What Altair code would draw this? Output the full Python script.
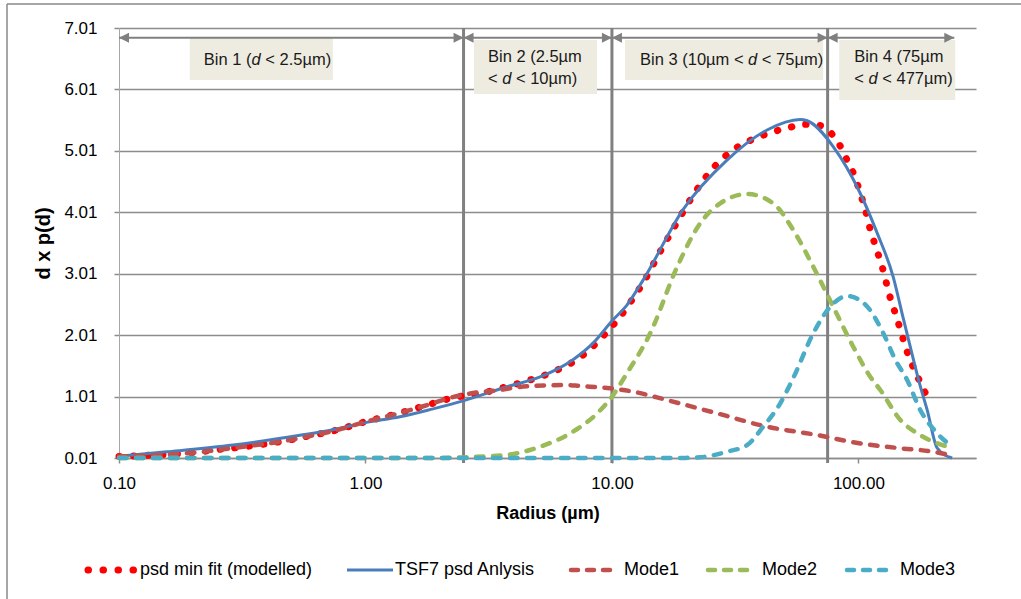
import math
import altair as alt
import pandas as pd

# ---------------------------------------------------------------- data
# Radius (µm) and d x p(d) for each series
fit_r = [0.1, 0.149, 0.197, 0.256, 0.339, 0.449, 0.589, 0.766, 1.0, 1.33, 1.73, 2.26, 3.0, 3.42,
         4.48, 5.88, 7.55, 9.29, 11.3, 12.3, 13.4, 15.5, 18.0, 21.1, 25.2, 31.3, 40.3, 52.8, 60.2,
         69.3, 78.2, 85.1, 90.9, 97.1, 101.7, 106.6, 110.7, 115.9, 121.4, 127.3, 132.1, 138.4,
         145.1, 152.0, 159.3, 170.2, 181.6, 193.8]
fit_v = [0.035, 0.064, 0.096, 0.15, 0.205, 0.275, 0.368, 0.466, 0.601, 0.726, 0.857, 0.99, 1.07,
         1.13, 1.26, 1.426, 1.67, 2.012, 2.419, 2.636, 2.864, 3.331, 3.787, 4.254, 4.687, 5.035,
         5.252, 5.393, 5.442, 5.426, 5.279, 5.061, 4.817, 4.573, 4.319, 4.058, 3.787, 3.526,
         3.277, 3.005, 2.733, 2.473, 2.213, 1.942, 1.687, 1.415, 1.171, 0.938]

tsf7_r = [0.1, 0.156, 0.29, 0.542, 0.737, 1.01, 1.38, 1.88, 2.49, 3.75, 5.11, 6.95, 8.38, 10.0,
          11.5, 13.4, 19.4, 29.3, 42.6, 58.0, 62.0, 79.0, 101.7, 119.2, 138.4, 151.9,
          167.4, 175.4, 190.2, 208.9, 240.0]
tsf7_v = [0.04, 0.11, 0.22, 0.38, 0.47, 0.59, 0.68, 0.81, 0.94, 1.17, 1.33, 1.61, 1.88, 2.24,
          2.50, 2.91, 4.05, 4.86, 5.35, 5.52, 5.50, 5.08, 4.32, 3.67, 2.96, 2.29, 1.605, 1.28,
          0.79, 0.17, 0.01]

mode1_r = [0.1, 0.15, 0.2, 0.3, 0.45, 0.6, 0.77, 1.0, 1.33, 1.73, 2.26, 2.73, 3.51, 4.12, 5.61,
           6.58, 7.42, 9.82, 12.2, 16.7, 26.7, 42.6, 68.0, 92.6, 148.0, 201.0, 235.0]
mode1_v = [0.035, 0.06, 0.096, 0.18, 0.275, 0.37, 0.466, 0.60, 0.726, 0.857, 1.0, 1.068, 1.117,
           1.161, 1.193, 1.198, 1.182, 1.145, 1.09, 0.954, 0.737, 0.52, 0.384, 0.275, 0.168,
           0.113, 0.059]

mode2_r = [0.1, 2.0, 2.5, 3.0, 3.75, 5.11, 6.95, 8.71, 10.0, 11.5, 14.3, 18.4, 22.8, 27.5, 35.4,
           45.1, 54.4, 65.6, 79.0, 95.3, 111.7, 122.7, 148.0, 178.0, 243.0]
mode2_v = [0.01, 0.01, 0.02, 0.035, 0.059, 0.194, 0.438, 0.737, 1.008, 1.389, 2.04, 3.124, 3.83,
           4.156, 4.307, 4.156, 3.722, 3.124, 2.473, 1.822, 1.334, 1.117, 0.629, 0.384, 0.168]

mode3_r = [0.1, 15.0, 20.0, 22.8, 29.3, 35.4, 41.1, 48.2, 54.4, 65.6, 76.9, 90.2, 108.7, 126.2,
           141.3, 157.7, 178.2, 208.9, 240.4]
mode3_v = [0.01, 0.01, 0.012, 0.021, 0.113, 0.222, 0.52, 0.90, 1.312, 2.04, 2.473, 2.647, 2.473,
           2.04, 1.605, 1.28, 0.791, 0.412, 0.194]

series_names = ["psd min fit (modelled)", "TSF7 psd Anlysis", "Mode1", "Mode2", "Mode3"]
series_colors = ["#FF0000", "#4A7EBB", "#C0504D", "#9BBB59", "#4BACC6"]

# size bins (radius, µm)
bin_edges = [2.5, 10, 75]
bin_start = [0.1, 2.5, 10, 75]
bin_end = [2.5, 10, 75, 245]

x_ticks = [0.1, 1, 10, 100]
y_ticks = [0.01, 1.01, 2.01, 3.01, 4.01, 5.01, 6.01, 7.01]

# ---------------------------------------------------------------- layout
W, H = 857, 430
PAD = {"left": 119, "top": 28, "right": 45, "bottom": 141}
X_DOMAIN = [0.1, 300]
Y_DOMAIN = [0.01, 7.01]
FONT = "Liberation Sans"
GRID = "#8C8C8C"
BIN_GRAY = "#808080"
BOX_FILL = "#EEECE1"
PX_PER_DECADE = W / math.log10(X_DOMAIN[1] / X_DOMAIN[0])

ARROW_V = 6.85
# label boxes: radius span and d x p(d) span
box_r0 = [0.1937, 2.755, 11.30, 83.6]
box_r1 = [0.7373, 8.70, 71.95, 247.2]
box_v0 = [6.163, 5.935, 6.163, 5.838]
box_v1 = [6.847, 6.814, 6.814, 6.814]

# label lines: (anchor radius, anchor value, [(text, italic), ...])
label_lines = [
    (0.2208, 6.489, [("Bin 1 (", False), ("d", True), (" < 2.5µm)", False)]),
    (3.141, 6.538, [("Bin 2 (2.5µm", False)]),
    (3.141, 6.180, [("< ", False), ("d", True), (" < 10µm)", False)]),
    (13.0, 6.489, [("Bin 3 (10µm < ", False), ("d", True), (" < 75µm)", False)]),
    (96.2, 6.538, [("Bin 4 (75µm", False)]),
    (96.2, 6.180, [("< ", False), ("d", True), (" < 477µm)", False)]),
]
LABEL_SIZE = 16.5

# advance widths of Liberation Sans (1/1000 em)
CHAR_W = {" ": 278, "(": 333, ")": 333, ".": 278, "<": 584, "B": 667, "d": 556, "i": 222,
          "m": 833, "n": 556, "µ": 576}
CHAR_W.update({str(k): 556 for k in range(10)})


def text_w(s, size):
    return sum(CHAR_W[c] for c in s) * size / 1000.0


xscale = alt.Scale(type="log", domain=X_DOMAIN, nice=False)
yscale = alt.Scale(domain=Y_DOMAIN, nice=False, zero=False)

x_axis = alt.Axis(values=x_ticks, format=".2f", grid=False, labelFlush=False, labelOverlap=False,
                  tickSize=5, tickColor=GRID, tickWidth=1.5, domainColor=GRID, domainWidth=1.5,
                  labelFont=FONT, labelFontSize=17, labelColor="#000000", labelPadding=12,
                  title="Radius (µm)", titleFont=FONT, titleFontSize=18, titleFontWeight="bold",
                  titleColor="#000000", titlePadding=13)
y_axis = alt.Axis(values=y_ticks, format=".2f", grid=True, gridColor=GRID, gridWidth=1.5,
                  tickSize=5, tickColor=GRID, tickWidth=1.5, domainColor="#A6A6A6",
                  domainWidth=1, labelFont=FONT, labelFontSize=17, labelColor="#000000",
                  labelPadding=17, labelOverlap=False, title="d x p(d)", titleFont=FONT,
                  titleFontSize=20, titleFontWeight="bold", titleColor="#000000",
                  titlePadding=10)


def X(field):
    return alt.X(field, type="quantitative", scale=xscale, axis=x_axis)


def Y(field):
    return alt.Y(field, type="quantitative", scale=yscale, axis=y_axis)


one_row = pd.DataFrame({"k": [0]})
layers = []

# bin boundary lines
layers.append(
    alt.Chart(pd.DataFrame({"edge": bin_edges}))
    .mark_rule(color=BIN_GRAY, strokeWidth=3)
    .encode(x=X("edge"), y=alt.value(0), y2=alt.value(H + 5))
)

# label boxes
boxes = pd.DataFrame({"r0": box_r0, "r1": box_r1, "v0": box_v0, "v1": box_v1})
layers.append(
    alt.Chart(boxes).mark_rect(fill=BOX_FILL)
    .encode(x=X("r0"), x2="r1", y=Y("v0"), y2="v1")
)

# double-headed bin arrows
arrows = pd.DataFrame({"start": bin_start, "end": bin_end, "av": [ARROW_V] * len(bin_start)})
layers.append(
    alt.Chart(arrows).mark_rule(color=BIN_GRAY, strokeWidth=2)
    .encode(x=X("start"), x2="end", y=Y("av"))
)
layers.append(
    alt.Chart(arrows).mark_point(shape="M0,0L2,-1L2,1Z", filled=True, size=100,
                                 color=BIN_GRAY, opacity=1, strokeWidth=0)
    .encode(x=X("start"), y=Y("av"))
)
layers.append(
    alt.Chart(arrows).mark_point(shape="M0,0L-2,-1L-2,1Z", filled=True, size=100,
                                 color=BIN_GRAY, opacity=1, strokeWidth=0)
    .encode(x=X("end"), y=Y("av"))
)

# bin labels, with an italic d
seg_rows = []
for r_anchor, v_anchor, segs in label_lines:
    offset = 0.0
    for txt, italic in segs:
        lead = len(txt) - len(txt.lstrip(" "))
        start = offset + text_w(txt[:lead], LABEL_SIZE)
        seg_rows.append({"r": r_anchor * 10 ** (start / PX_PER_DECADE), "v": v_anchor,
                         "t": txt.strip(" "), "it": italic})
        offset += text_w(txt, LABEL_SIZE)
segs_df = pd.DataFrame(seg_rows)
for italic in (False, True):
    layers.append(
        alt.Chart(segs_df[segs_df["it"] == italic])
        .mark_text(align="left", baseline="middle", font=FONT, fontSize=LABEL_SIZE,
                   fontStyle="italic" if italic else "normal", color="#1A1A1A")
        .encode(x=X("r"), y=Y("v"), text="t:N")
    )

# data series
series_data = [(fit_r, fit_v), (tsf7_r, tsf7_v), (mode1_r, mode1_v), (mode2_r, mode2_v),
               (mode3_r, mode3_v)]
DASHED = {"strokeWidth": 4.5, "strokeDash": [7.5, 9.5], "strokeCap": "round"}
series_style = [
    {"strokeWidth": 7, "strokeDash": [0.5, 14], "strokeCap": "round"},
    {"strokeWidth": 3},
    DASHED, DASHED, DASHED,
]
for (r, v), color, style in zip(series_data, series_colors, series_style):
    layers.append(
        alt.Chart(pd.DataFrame({"r": r, "v": v}))
        .mark_line(color=color, interpolate="monotone", **style)
        .encode(x=X("r"), y=Y("v"))
    )

# legend row
LEG_Y = 542
legend_sym = [(-31, 15.5), (228, 274), (452, 494), (589, 633), (728, 771)]
legend_text_x = [21, 276, 505, 643, 781]
legend_style = [
    {"strokeWidth": 7, "strokeDash": [0.5, 14.5], "strokeCap": "round"},
    {"strokeWidth": 3},
    {"strokeWidth": 4.5, "strokeDash": [7, 9], "strokeCap": "round"},
    {"strokeWidth": 4.5, "strokeDash": [7, 9], "strokeCap": "round"},
    {"strokeWidth": 4.5, "strokeDash": [7, 9], "strokeCap": "round"},
]
for name, color, (x0, x1), tx, style in zip(series_names, series_colors, legend_sym,
                                            legend_text_x, legend_style):
    layers.append(
        alt.Chart(one_row).mark_rule(color=color, **style)
        .encode(x=alt.value(x0), x2=alt.value(x1), y=alt.value(LEG_Y))
    )
    layers.append(
        alt.Chart(one_row).mark_text(text=name, align="left", baseline="middle", font=FONT,
                                     fontSize=18, color="#000000")
        .encode(x=alt.value(tx), y=alt.value(LEG_Y))
    )

# outer chart frame
layers.append(
    alt.Chart(one_row).mark_rule(color="#898989", strokeWidth=1.5)
    .encode(x=alt.value(-112), x2=alt.value(W + PAD["right"] + 5), y=alt.value(-24))
)
layers.append(
    alt.Chart(one_row).mark_rule(color="#898989", strokeWidth=1.5)
    .encode(x=alt.value(-112), y=alt.value(-24), y2=alt.value(H + PAD["bottom"] + 5))
)

chart = (
    alt.layer(*layers)
    .properties(width=W, height=H, padding=PAD, background="white",
                autosize=alt.AutoSizeParams(type="none"))
    .configure_view(stroke=None)
)

chart.save("out.html", embed_options={"renderer": "svg", "actions": False})
